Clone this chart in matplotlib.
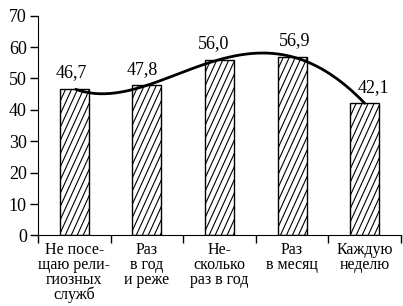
import numpy as np
import matplotlib
matplotlib.use("Agg")
import matplotlib.pyplot as plt

# data
categories = ["Не посе-\nщаю рели-\nгиозных\nслужб",
              "Раз\nв год\nи реже",
              "Не-\nсколько\nраз в год",
              "Раз\nв месяц",
              "Каждую\nнеделю"]
values = [46.7, 47.8, 56.0, 56.9, 42.1]
value_labels = ["46,7", "47,8", "56,0", "56,9", "42,1"]
y_ticks = [0, 10, 20, 30, 40, 50, 60, 70]

plt.rcParams['font.family'] = ['Liberation Serif', 'DejaVu Serif']

fig = plt.figure(figsize=(4.03, 3.06), dpi=100)
ax = fig.add_axes([0.0943, 0.2304, 0.9007, 0.7186])

x = np.arange(len(values))
bars = ax.bar(x, values, width=0.4, color="white", edgecolor="black", linewidth=1.0, zorder=2)

ax.set_xlim(-0.5, len(values) - 0.5)
ax.set_ylim(0, 70)

# steep hatching drawn by hand, clipped to each bar
fig.canvas.draw()
inv = ax.transData.inverted()
step = 6.0   # px between lines, horizontally
slope = 2.2  # px up per px across
for b in bars:
    (x0, y0), (x1, y1) = ax.transData.transform([(b.get_x(), 0), (b.get_x() + b.get_width(), b.get_height())])
    h = y1 - y0
    start = x0 - h / slope
    for xs in np.arange(start, x1 + step, step):
        pts = inv.transform([(xs, y0), (xs + h / slope, y1)])
        ln, = ax.plot(pts[:, 0], pts[:, 1], color="black", lw=0.8, zorder=3)
        ln.set_clip_path(b)

# smooth curve through the bar tops
coef = np.polyfit(x, values, 4)
xs = np.linspace(0.02, len(values) - 1, 300)
ax.plot(xs, np.polyval(coef, xs), color="black", lw=2.0, zorder=4, solid_capstyle="round")

dx = [-0.04, -0.06, -0.08, 0.03, 0.12]
for i, v in enumerate(values):
    ax.text(i + dx[i], v + 3.6, value_labels[i], ha="center", va="baseline", fontsize=13)

ax.spines["top"].set_visible(False)
ax.spines["right"].set_visible(False)
ax.spines["left"].set_bounds(0, 70)

ax.set_yticks(y_ticks)
ax.tick_params(axis="y", direction="out", length=6, width=1, pad=2, labelsize=13)

ax.set_xticks(np.arange(-0.5, len(values)), [""] * (len(values) + 1))
ax.set_xticks(x, categories, minor=True)
ax.tick_params(axis="x", which="major", direction="out", length=6, width=1)
ax.tick_params(axis="x", which="minor", length=0, pad=5, labelsize=11.5)
for t in ax.get_xticklabels(minor=True):
    t.set_linespacing(0.9)

fig.savefig("out.png", dpi=100)
